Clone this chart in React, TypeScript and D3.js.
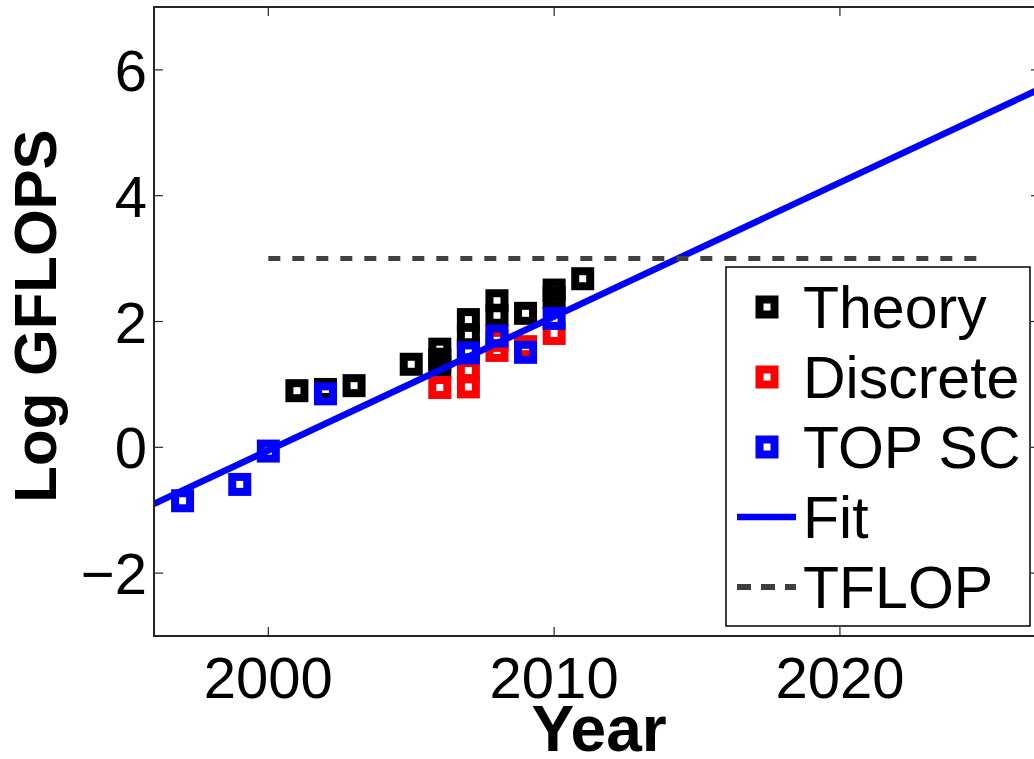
import React from 'react';
import * as d3 from 'd3';

// values (log10 GFLOPS per year)
const theoryYears = [2001, 2002, 2003, 2005, 2006, 2006, 2006, 2007, 2007, 2007, 2008, 2008, 2009, 2010, 2010, 2011];
const theoryValues = [0.9, 0.92, 0.98, 1.32, 1.27, 1.4, 1.56, 2.03, 1.78, 1.55, 2.33, 2.1, 2.13, 2.5, 2.38, 2.68];

const discreteYears = [2006, 2007, 2007, 2008, 2008, 2009, 2010];
const discreteValues = [0.95, 0.96, 1.22, 1.54, 1.7, 1.6, 1.81];

const topYears = [1997, 1999, 2000, 2002, 2007, 2008, 2009, 2010];
const topValues = [-0.85, -0.59, -0.06, 0.85, 1.5, 1.77, 1.51, 2.05];

const fitYears = [1996, 2027];
const fitValues = [-0.9, 5.7];

const tflopYears = [2000, 2025];
const tflopValues = [3, 3];

const xTicks = [2000, 2010, 2020];
const yTicks = [-2, 0, 2, 4, 6];

const legendLabels = ['Theory', 'Discrete', 'TOP SC', 'Fit', 'TFLOP'];

const FONT = 'Liberation Sans, Arial, Helvetica, sans-serif';
const AXIS = '#262626';
const DASH = '#404040';

const App = () => {
  const x = d3.scaleLinear().domain([1996, 2027]).range([154, 1040]);
  const y = d3.scaleLinear().domain([-3, 7]).range([636, 7]);

  const line = d3.line<[number, number]>()
    .x(d => x(d[0]))
    .y(d => y(d[1]));

  const side = 15;
  const sw = 8;

  const markers = (years: number[], vals: number[], color: string, key: string) =>
    years.map((yr, i) => (
      <rect
        key={key + i}
        x={x(yr) - side / 2}
        y={y(vals[i]) - side / 2}
        width={side}
        height={side}
        fill="none"
        stroke={color}
        strokeWidth={sw}
      />
    ));

  const fitPts = fitYears.map((d, i) => [d, fitValues[i]] as [number, number]);
  const tflopPts = tflopYears.map((d, i) => [d, tflopValues[i]] as [number, number]);

  const [x0, x1] = x.range();
  const [y0, y1] = [y(7), y(-3)];

  // legend layout
  const lgX = 726, lgY = 267, lgW = 304, lgH = 359;
  const rowY = (i: number) => 307 + i * 70;

  return (
    <svg width={1034} height={759} style={{ position: 'absolute', left: 0, top: 0, background: '#fff' }}>
      <defs>
        <clipPath id="plotClip">
          <rect x={x0} y={y0} width={x1 - x0} height={y1 - y0} />
        </clipPath>
      </defs>
      <rect x={0} y={0} width={1034} height={759} fill="#fff" />

      <g clipPath="url(#plotClip)">
        {markers(theoryYears, theoryValues, '#000000', 't')}
        {markers(discreteYears, discreteValues, '#ff0000', 'd')}
        {markers(topYears, topValues, '#0000ff', 's')}
        <path d={line(fitPts) || ''} fill="none" stroke="#0000ff" strokeWidth={6.5} />
        <path d={line(tflopPts) || ''} fill="none" stroke={DASH} strokeWidth={5} strokeDasharray="12 12" />
      </g>

      {/* axes box */}
      <rect x={x0} y={y0} width={x1 - x0} height={y1 - y0} fill="none" stroke={AXIS} strokeWidth={2} />

      {/* x ticks bottom and top */}
      {xTicks.map(t => (
        <g key={'xt' + t}>
          <line x1={x(t)} x2={x(t)} y1={y1} y2={y1 - 9} stroke={AXIS} strokeWidth={1.2} />
          <line x1={x(t)} x2={x(t)} y1={y0} y2={y0 + 9} stroke={AXIS} strokeWidth={1.2} />
          <text x={x(t)} y={698} textAnchor="middle" fontFamily={FONT} fontSize={58} fill="#000">{t}</text>
        </g>
      ))}

      {/* y ticks left and right */}
      {yTicks.map(t => (
        <g key={'yt' + t}>
          <line x1={x0} x2={x0 + 9} y1={y(t)} y2={y(t)} stroke={AXIS} strokeWidth={1.2} />
          <line x1={x1} x2={x1 - 9} y1={y(t)} y2={y(t)} stroke={AXIS} strokeWidth={1.2} />
          <text x={147} y={y(t) + 21} textAnchor="end" fontFamily={FONT} fontSize={58} fill="#000">
            {t < 0 ? '\u2212' + Math.abs(t) : t}
          </text>
        </g>
      ))}

      {/* axis titles */}
      <text x={599} y={751} textAnchor="middle" fontFamily={FONT} fontWeight="bold" fontSize={64} fill="#000">Year</text>
      <text transform="translate(56,316) rotate(-90)" textAnchor="middle" fontFamily={FONT} fontWeight="bold" fontSize={60} fill="#000">Log GFLOPS</text>

      {/* legend */}
      <g>
        <rect x={lgX} y={lgY} width={lgW} height={lgH} fill="#fff" stroke="#000" strokeWidth={1.5} />
        {['#000000', '#ff0000', '#0000ff'].map((c, i) => (
          <rect key={'lm' + i} x={767 - side / 2} y={rowY(i) - side / 2} width={side} height={side}
            fill="none" stroke={c} strokeWidth={sw} />
        ))}
        <line x1={737} x2={796} y1={rowY(3)} y2={rowY(3)} stroke="#0000ff" strokeWidth={6.5} />
        <line x1={737} x2={796} y1={rowY(4)} y2={rowY(4)} stroke={DASH} strokeWidth={6} strokeDasharray="14 10" />
        {legendLabels.map((l, i) => (
          <text key={l} x={803} y={rowY(i) + 21} fontFamily={FONT} fontSize={59} fill="#000">{l}</text>
        ))}
      </g>
    </svg>
  );
};

export default App;
